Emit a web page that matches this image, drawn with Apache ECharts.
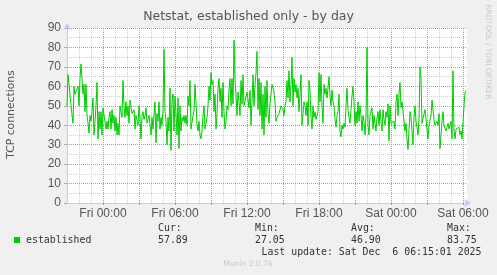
<!DOCTYPE html>
<html><head><meta charset="utf-8">
<script src="https://cdn.jsdelivr.net/npm/echarts@6/dist/echarts.min.js"></script>
<style>html,body{margin:0;padding:0;background:#f0f0f0}#c{width:497px;height:275px}</style>
</head><body><div id="c"></div>
<script>
// 5-minute samples starting Thu 21:00 (hours relative to Fri 00:00 = -3)
var startHour = -3;
var stepHours = 5 / 60;
var established = [
50,66,61,62,50,50,41,60,56,55,56,60,50,64,71.5,64,56,61,47,61,45,41,36,45,42,47,54,35,42,50,62,33,47,38,47,35,49,48,49,38,42,38,44,47,38,48,41,45,37,44,35,41,35,50,49,44,63,
50,44,52,45,50,41,53,54,46,45,48,38,45,46,40,50,44,33,45,47,43,45,49,41,43,45,40,35,44,38,45,52,31,46,42,52,38,44,40,48,79,47,42,30,44,37,59,27.05,52,56,37,55,46,35,54,28,
50,37,44,42,45,41,45,40,55,50,63,38,39,45,47,61,52,40,37,42,35,33,37,45,50,38,38,44,50,60,53,67,61,63,47,56,38,46,59,64,52,59,44,62,47,38,42,50,48,58,64,50,64,51,83.75,63,56,45,
57,52,45,63,51,66,50,51,49,57,53,49,58,40,52,66,50,61,67,78,48,64,45,62,38,56,35,60,44,63,46,41,51,52,61,60,57,52,42,44,45,46,47,50,49,48,45,50,52,63,54,68,52,61,75,50,64,57,
61,54,59,47,56,66,40,46,52,50,45,52,40,63,58,44,38,50,44,47,43,45,47,67,52,66,50,41,61,56,59,54,59,65,55,50,58,52,50,43,39,45,47,56,37,34,40,38,41,39,50,59,48,44,41,48,55,60,
52,40,47,41,52,42,50,45,37,45,42,35,44,80,40,35,45,44,49,38,45,41,37,44,47,40,48,42,37,48,43,40,47,44,51,32,50,41,40,41,42,38,52,56,45,56,62,49,52,52,51,37,41,33,27.5,38,
47,44,45,30,44,50,42,39,35,43,70,64,41,42,41,48,43,38,33,40,39,45,53,54,43,40,41,42,40,46,28,35,42,47,40,41,37,39,41,38,38,42,33,68,37,33,38,38,38,39,35,37,33,42,41,57,57.89
];
var dayNames = ['Fri', 'Sat'];
var yTicks = [0, 10, 20, 30, 40, 50, 60, 70, 80, 90];
var xMajorHours = [0, 3, 6, 9, 12, 15, 18, 21, 24, 27, 30];
var legendStats = [['Cur:', '57.89'], ['Min:', '27.05'], ['Avg:', '46.90'], ['Max:', '83.75']];
var seriesName = 'established';
var lastUpdate = 'Last update: Sat Dec  6 06:15:01 2025';

var points = established.map(function (v, i) { return [startHour + i * stepHours, v]; });
var endHour = startHour + established.length * stepHours;

var G = { left: 67, right: 30, top: 28, bottom: 72 };
var W = 497, H = 275;

var chart = echarts.init(document.getElementById('c'), null, { renderer: 'canvas' });
var statX = [158, 255, 351, 447];
var graphics = [
  { type: 'rect', z: -100, silent: true, shape: { x: G.left, y: G.top, width: W - G.left - G.right, height: H - G.top - G.bottom }, style: { fill: '#ffffff' } },
  { type: 'text', left: 'center', top: 10, style: { text: 'Netstat, established only - by day', font: '12.5px "DejaVu Sans"', fill: '#555' } },
  { type: 'text', x: 11, y: 114.5, rotation: Math.PI / 2, style: { text: 'TCP connections', font: '10.8px "DejaVu Sans"', fill: '#555', align: 'center', verticalAlign: 'middle' } },
  { type: 'text', x: 487.5, y: 52, rotation: -Math.PI / 2, style: { text: 'RRDTOOL / TOBI OETIKER', font: '7.4px "DejaVu Sans"', fill: '#c8c8c8', align: 'center', verticalAlign: 'middle' } },
  { type: 'rect', shape: { x: 14, y: 237, width: 6, height: 6 }, style: { fill: '#00cc00' } },
  { type: 'text', x: 26, y: 240, style: { text: seriesName, font: '9.9px "DejaVu Sans Mono"', fill: '#333', verticalAlign: 'middle' } },
  { type: 'text', x: 261.5, y: 252, style: { text: lastUpdate, font: '9.9px "DejaVu Sans Mono"', fill: '#333', verticalAlign: 'middle' } },
  { type: 'text', x: 248, y: 264.5, style: { text: 'Munin 2.0.76', font: '7.5px "DejaVu Sans"', fill: '#c8c8c8', align: 'center', verticalAlign: 'middle' } }
];
legendStats.forEach(function (s, k) {
  graphics.push({ type: 'text', x: statX[k], y: 228, style: { text: s[0], font: '9.9px "DejaVu Sans Mono"', fill: '#333', verticalAlign: 'middle' } });
  graphics.push({ type: 'text', x: statX[k], y: 240, style: { text: s[1], font: '9.9px "DejaVu Sans Mono"', fill: '#333', verticalAlign: 'middle' } });
});

function minorGrid() { return { show: true, showMinLine: false, showMaxLine: false, lineStyle: { color: '#cfcfcf', type: [1, 1], width: 1 } }; }
var hidden = { axisLine: { show: false }, axisTick: { show: false }, axisLabel: { show: false } };

var majorLines = xMajorHours.map(function (h) { return { xAxis: h }; })
  .concat(yTicks.slice(1).map(function (v) { return { yAxis: v }; }));

chart.setOption({
  animation: false,
  backgroundColor: '#f0f0f0',
  grid: { left: G.left, right: G.right, top: G.top, bottom: G.bottom, show: false },
  xAxis: [{
    type: 'value', min: startHour, max: endHour, interval: 3, z: 4,
    axisLine: { show: true, onZero: false, lineStyle: { color: '#c8c8f0', width: 1 }, symbol: ['none', 'arrow'], symbolSize: [6, 7], symbolOffset: [0, 4] },
    axisTick: { show: true, length: 2, inside: false, lineStyle: { color: '#ee7a7a' } },
    axisLabel: {
      margin: 5, font: '9.4px "DejaVu Sans"', color: '#555', showMaxLabel: false, showMinLabel: false,
      formatter: function (v) {
        var r = Math.round(v);
        if (Math.abs(v - r) > 1e-6 || r % 6 !== 0) return '';
        var day = dayNames[r < 24 ? 0 : 1];
        var hh = ((r % 24) + 24) % 24;
        return day + ' ' + (hh < 10 ? '0' : '') + hh + ':00';
      }
    },
    splitLine: { show: false }
  }, Object.assign({
    type: 'value', min: startHour, max: endHour, interval: 1, z: 1, position: 'bottom',
    splitLine: minorGrid()
  }, hidden)],
  yAxis: [{
    type: 'value', min: yTicks[0], max: yTicks[yTicks.length - 1], interval: 10, z: 4,
    axisLine: { show: true, onZero: false, lineStyle: { color: '#c8c8f0', width: 1 }, symbol: ['none', 'arrow'], symbolSize: [6, 7], symbolOffset: [0, 5] },
    axisTick: { show: true, length: 3, lineStyle: { color: '#aaa' } },
    axisLabel: { margin: 6, font: '9.4px "DejaVu Sans"', color: '#555' },
    splitLine: { show: false }
  }, Object.assign({
    type: 'value', min: yTicks[0], max: yTicks[yTicks.length - 1], interval: 5, z: 1, position: 'left',
    splitLine: minorGrid()
  }, hidden)],
  series: [{
    name: 'grid', type: 'line', data: [], xAxisIndex: 0, yAxisIndex: 0, z: 2, silent: true,
    markLine: {
      silent: true, animation: false, symbol: ['none', 'none'], precision: 4,
      label: { show: false }, emphasis: { disabled: true },
      lineStyle: { color: '#f08080', type: [1, 1], width: 1 },
      data: majorLines
    }
  }, {
    name: seriesName, type: 'line', data: points, showSymbol: false, symbol: 'none', xAxisIndex: 0, yAxisIndex: 0,
    lineStyle: { color: '#00cc00', width: 1 }, sampling: null, clip: true, z: 5
  }],
  graphic: graphics
});
</script></body></html>
